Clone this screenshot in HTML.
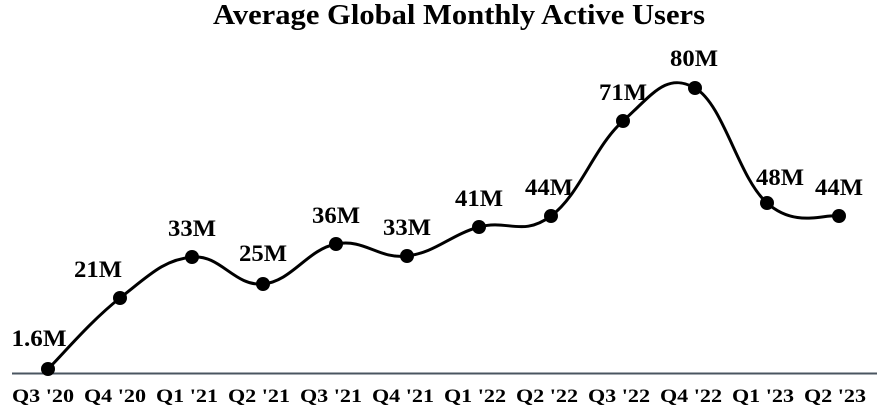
<!DOCTYPE html>
<html><head><style>
body{margin:0;background:#fff}
svg{display:block}
text{font-family:"Liberation Serif",serif;font-weight:bold;fill:#000}
</style></head><body>
<svg id="s" width="877" height="409" viewBox="0 0 877 409">
<text x="459" y="24" font-size="29" text-anchor="middle" textLength="492" lengthAdjust="spacingAndGlyphs">Average Global Monthly Active Users</text>
<line x1="12" y1="373.5" x2="877" y2="373.5" stroke="#4a5560" stroke-width="2"/>
<path id="p" fill="none" stroke="#000" stroke-width="3"/>
<g id="g"></g>
<g font-size="19" text-anchor="middle" id="t">
<text x="43" y="402">Q3 '20</text><text x="115" y="402">Q4 '20</text><text x="187" y="402">Q1 '21</text><text x="259" y="402">Q2 '21</text><text x="331" y="402">Q3 '21</text><text x="403" y="402">Q4 '21</text><text x="475" y="402">Q1 '22</text><text x="547" y="402">Q2 '22</text><text x="619" y="402">Q3 '22</text><text x="691" y="402">Q4 '22</text><text x="763" y="402">Q1 '23</text><text x="835" y="402">Q2 '23</text>
</g>
<g font-size="23" text-anchor="middle" id="l">
<text x="39" y="346" textLength="55" lengthAdjust="spacingAndGlyphs">1.6M</text><text x="98" y="277">21M</text><text x="192" y="236">33M</text><text x="263" y="261">25M</text><text x="336" y="223">36M</text><text x="407" y="235">33M</text><text x="479" y="206">41M</text><text x="549" y="195">44M</text><text x="623" y="100">71M</text><text x="694" y="66">80M</text><text x="780" y="185">48M</text><text x="839" y="195">44M</text>
</g>
</svg>
<script>
document.querySelectorAll("#t text").forEach(function(e){e.setAttribute("textLength","62");e.setAttribute("lengthAdjust","spacingAndGlyphs");});
document.querySelectorAll("#l text").forEach(function(e){if(!e.getAttribute("textLength")){e.setAttribute("textLength","48");e.setAttribute("lengthAdjust","spacingAndGlyphs");}});
var P=[[48,369],[120,298],[192,257],[263,284],[336,244],[407,256],[479,227],[551,216],[623,121],[695,88],[767,203],[839,216]];
var d="M"+P[0];
for(var i=0;i<P.length-1;i++){
var p0=P[Math.max(i-1,0)],p1=P[i],p2=P[i+1],p3=P[Math.min(i+2,P.length-1)];
var t=0.2;
var c1=[p1[0]+(p2[0]-p0[0])*t,p1[1]+(p2[1]-p0[1])*t];
var c2=[p2[0]-(p3[0]-p1[0])*t,p2[1]-(p3[1]-p1[1])*t];
d+=" C"+c1+" "+c2+" "+p2;}
document.getElementById("p").setAttribute("d",d);
var g=document.getElementById("g"),h="";
P.forEach(function(p){h+='<circle cx="'+p[0]+'" cy="'+p[1]+'" r="7" fill="#000"/>';});
g.innerHTML=h;
</script>
</body></html>
